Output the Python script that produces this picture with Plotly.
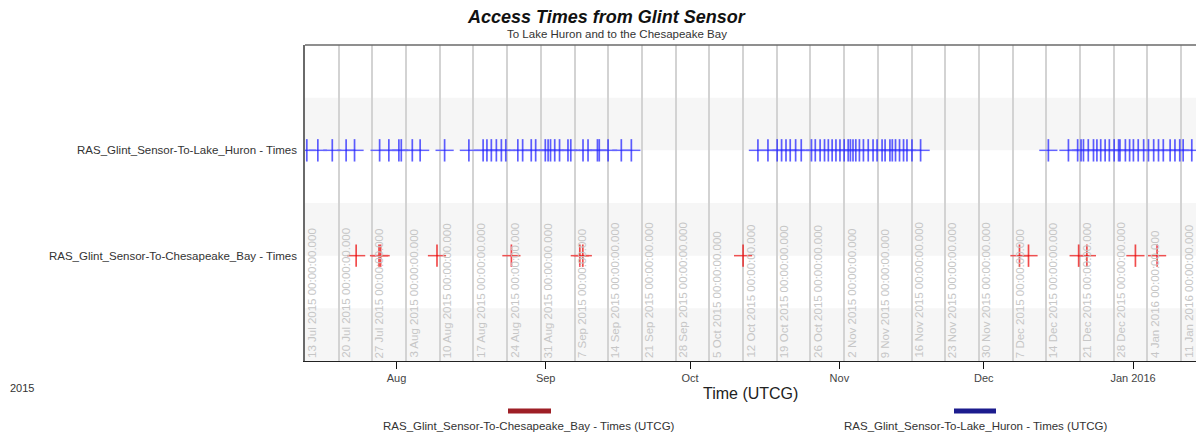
import plotly.graph_objects as go
import pandas as pd

# ---------------- data ----------------
huron_times = [
    "2015-07-13 09:00", "2015-07-15 16:00", "2015-07-18 16:00", "2015-07-21 13:00", "2015-07-23 07:00",
    "2015-07-28 12:00", "2015-07-30 10:00", "2015-08-01 12:00", "2015-08-02 00:00", "2015-08-04 07:00",
    "2015-08-05 22:00", "2015-08-11 00:00",
    "2015-08-16 01:00", "2015-08-19 00:00", "2015-08-19 19:00", "2015-08-20 17:00", "2015-08-21 18:00",
    "2015-08-22 19:00", "2015-08-23 17:00", "2015-08-26 05:00", "2015-08-27 05:00", "2015-08-29 00:00",
    "2015-08-29 22:00", "2015-08-31 22:00", "2015-09-01 12:00", "2015-09-02 00:00", "2015-09-02 21:00",
    "2015-09-03 21:00", "2015-09-05 15:00", "2015-09-06 05:00", "2015-09-08 18:00", "2015-09-09 19:00",
    "2015-09-11 18:00", "2015-09-12 03:00", "2015-09-13 23:00", "2015-09-16 17:00", "2015-09-18 19:00",
    "2015-10-15 02:00", "2015-10-17 04:00", "2015-10-19 02:00", "2015-10-20 00:00", "2015-10-20 22:00",
    "2015-10-21 19:00", "2015-10-22 22:00", "2015-10-24 02:00", "2015-10-26 05:00", "2015-10-27 00:00",
    "2015-10-28 00:00", "2015-10-28 22:00", "2015-10-29 17:00", "2015-10-30 12:00", "2015-10-31 07:00",
    "2015-11-01 03:00", "2015-11-02 00:00", "2015-11-02 20:00", "2015-11-03 07:00", "2015-11-03 20:00",
    "2015-11-04 10:00", "2015-11-05 04:00", "2015-11-06 00:00", "2015-11-07 00:00", "2015-11-08 00:00",
    "2015-11-08 20:00", "2015-11-09 21:00", "2015-11-10 12:00", "2015-11-11 12:00", "2015-11-12 00:00",
    "2015-11-12 16:00", "2015-11-13 12:00", "2015-11-14 08:00", "2015-11-15 01:00", "2015-11-16 02:00",
    "2015-11-17 21:00",
    "2015-12-14 10:00", "2015-12-18 14:00", "2015-12-20 12:00", "2015-12-21 05:00", "2015-12-21 17:00",
    "2015-12-22 17:00", "2015-12-23 19:00", "2015-12-24 12:00", "2015-12-25 07:00", "2015-12-26 05:00",
    "2015-12-27 02:00", "2015-12-28 02:00", "2015-12-29 00:00", "2015-12-29 07:00", "2015-12-30 10:00",
    "2015-12-31 07:00", "2016-01-01 02:00", "2016-01-02 02:00", "2016-01-03 05:00", "2016-01-04 05:00",
    "2016-01-05 07:00", "2016-01-06 07:00", "2016-01-07 07:00", "2016-01-08 17:00", "2016-01-09 17:00",
    "2016-01-10 17:00", "2016-01-11 10:00", "2016-01-13 05:00",
]

chesapeake_times = [
    "2015-07-23 15:00", "2015-07-28 09:00", "2015-07-28 17:00", "2015-08-09 10:00", "2015-08-24 21:00",
    "2015-09-08 02:00", "2015-09-08 17:00", "2015-10-12 00:00", "2015-12-08 10:00", "2015-12-10 07:00",
    "2015-12-20 17:00", "2015-12-22 10:00", "2016-01-01 12:00", "2016-01-06 00:00",
]

row_labels = ["RAS_Glint_Sensor-To-Lake_Huron - Times", "RAS_Glint_Sensor-To-Chesapeake_Bay - Times"]
row_values = [4, 2]

legend_labels = ["RAS_Glint_Sensor-To-Chesapeake_Bay - Times (UTCG)", "RAS_Glint_Sensor-To-Lake_Huron - Times (UTCG)"]

week_dates = [
    "2015-07-13", "2015-07-20", "2015-07-27", "2015-08-03", "2015-08-10", "2015-08-17", "2015-08-24",
    "2015-08-31", "2015-09-07", "2015-09-14", "2015-09-21", "2015-09-28", "2015-10-05", "2015-10-12",
    "2015-10-19", "2015-10-26", "2015-11-02", "2015-11-09", "2015-11-16", "2015-11-23", "2015-11-30",
    "2015-12-07", "2015-12-14", "2015-12-21", "2015-12-28", "2016-01-04", "2016-01-11",
]
month_ticks = ["2015-08-01", "2015-09-01", "2015-10-01", "2015-11-01", "2015-12-01", "2016-01-01"]
month_labels = ["Aug", "Sep", "Oct", "Nov", "Dec", "Jan 2016"]
x_range = ["2015-07-13 00:00", "2016-01-14 02:00"]

# ---------------- layout helpers ----------------
W, H = 1196, 436
L, R, T, B = 305, 0, 45, 75
PW, PH = W - L - R, H - T - B


def px(x):
    return (x - L) / PW


def py(y):
    return (H - B - y) / PH


FONT = "Liberation Sans, Arial, sans-serif"

fig = go.Figure()

# plotly line symbols span 1.4 * size
series = [
    (huron_times, row_values[0], "rgba(30,30,255,0.72)", "#6464ff"),
    (chesapeake_times, row_values[1], "rgba(235,0,0,0.7)", "#ee5050"),
]
for times, yv, vcol, hcol in series:
    ys = [yv] * len(times)
    fig.add_trace(go.Scatter(
        x=times, y=ys, mode="markers", showlegend=False, hoverinfo="x",
        marker=dict(symbol="line-ew-open", size=13, color=hcol, line=dict(color=hcol, width=1.5)),
    ))
    fig.add_trace(go.Scatter(
        x=times, y=ys, mode="markers", showlegend=False, hoverinfo="x",
        marker=dict(symbol="line-ns-open", size=16, color=vcol, line=dict(color=vcol, width=1.7)),
    ))

shapes = []
# alternating horizontal bands
for y0 in [0, 2, 4]:
    shapes.append(dict(type="rect", xref="paper", yref="y", x0=0, x1=1, y0=y0, y1=y0 + 1,
                       fillcolor="#f6f6f6", line=dict(width=0), layer="below"))
# top frame line
shapes.append(dict(type="line", xref="paper", yref="paper", x0=0, x1=1, y0=1, y1=1,
                   line=dict(color="#6a6a6a", width=1.5)))
# legend bars
shapes.append(dict(type="line", xref="paper", yref="paper", x0=px(508), x1=px(551), y0=py(411), y1=py(411),
                   line=dict(color="#9e1f26", width=5)))
shapes.append(dict(type="line", xref="paper", yref="paper", x0=px(954), x1=px(996), y0=py(411), y1=py(411),
                   line=dict(color="#1c1c8e", width=5)))

annotations = []
# weekly rotated date labels
for d in week_dates:
    ts = pd.Timestamp(d)
    annotations.append(dict(
        x=d, y=0, xref="x", yref="y", text=f"{ts.day} {ts.strftime('%b')} {ts.year} 00:00:00.000",
        textangle=-90, xanchor="left", yanchor="bottom", showarrow=False, xshift=-1, yshift=1,
        font=dict(family=FONT, size=11.5, color="#c6c6c6"),
    ))
# titles and labels
annotations += [
    dict(x=px(606), y=py(17), xref="paper", yref="paper", showarrow=False,
         text="<b><i>Access Times from Glint Sensor</i></b>", xanchor="center", yanchor="middle",
         font=dict(family=FONT, size=18, color="#111111")),
    dict(x=px(617), y=py(34), xref="paper", yref="paper", showarrow=False,
         text="To Lake Huron and to the Chesapeake Bay", xanchor="center", yanchor="middle",
         font=dict(family=FONT, size=11.5, color="#333333")),
    dict(x=px(22), y=py(388), xref="paper", yref="paper", showarrow=False, text="2015",
         xanchor="center", yanchor="middle", font=dict(family=FONT, size=11, color="#333333")),
    dict(x=px(750), y=py(393), xref="paper", yref="paper", showarrow=False, text="Time (UTCG)",
         xanchor="center", yanchor="middle", font=dict(family=FONT, size=16, color="#222222")),
    dict(x=px(529), y=py(426), xref="paper", yref="paper", showarrow=False, text=legend_labels[0],
         xanchor="center", yanchor="middle", font=dict(family=FONT, size=11.5, color="#333333")),
    dict(x=px(975), y=py(426), xref="paper", yref="paper", showarrow=False, text=legend_labels[1],
         xanchor="center", yanchor="middle", font=dict(family=FONT, size=11.5, color="#333333")),
]

fig.update_layout(
    width=W, height=H,
    margin=dict(l=L, r=R, t=T, b=B, autoexpand=False),
    plot_bgcolor="white", paper_bgcolor="white",
    font=dict(family=FONT, size=11, color="#333333"),
    showlegend=False,
    shapes=shapes, annotations=annotations,
    xaxis=dict(
        type="date", range=x_range, tickmode="array", tickvals=month_ticks, ticktext=month_labels,
        ticks="outside", ticklen=7, tickcolor="#111111", tickwidth=1,
        showline=True, linecolor="#222222", linewidth=1, showgrid=False, zeroline=False,
        tickfont=dict(family=FONT, size=11, color="#444444"),
        minor=dict(tickmode="array", tickvals=week_dates, showgrid=True, gridcolor="#d3d3d3",
                   gridwidth=1.5, ticks=""),
        automargin=False,
    ),
    yaxis=dict(
        range=[0, 6], tickmode="array", tickvals=row_values, ticktext=row_labels,
        showgrid=False, zeroline=False, showline=True, linecolor="#6a6a6a", linewidth=1.5,
        ticks="", ticklabelstandoff=4, fixedrange=True,
        tickfont=dict(family=FONT, size=11.5, color="#333333"),
        automargin=False,
    ),
)

fig.write_html(
    "out.html",
    config={"displayModeBar": False},
    post_script="document.body.style.margin='0';document.body.style.padding='0';"
                "document.documentElement.style.overflow='hidden';",
)
